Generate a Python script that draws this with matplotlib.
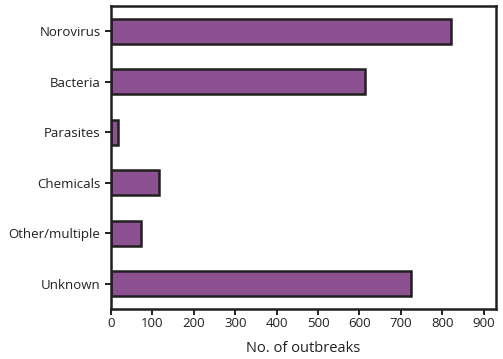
import matplotlib
matplotlib.use("Agg")
import matplotlib.pyplot as plt

categories = ["Norovirus", "Bacteria", "Parasites", "Chemicals", "Other/multiple", "Unknown"]
outbreaks = [822, 614, 17, 115, 72, 724]
xticks = [0, 100, 200, 300, 400, 500, 600, 700, 800, 900]

plt.rcParams['font.family'] = ['Open Sans', 'DejaVu Sans']
dark = "#231f20"

fig = plt.figure(figsize=(5.03, 3.59), dpi=100)
ax = fig.add_axes([111/503, 1-309/359, (496-111)/503, (309-6)/359])

ypos = list(range(len(categories)))
ax.barh(ypos, outbreaks, height=0.5, color="#8b5191", edgecolor=dark, linewidth=1.8)
ax.set_ylim(len(categories)-0.5, -0.5)
ax.set_xlim(0, 930)
ax.set_yticks(ypos)
ax.set_yticklabels(categories)
ax.set_xticks(xticks)
ax.set_xticklabels([str(v) for v in xticks])
for s in ax.spines.values():
    s.set_color(dark)
    s.set_linewidth(1.8)
ax.tick_params(axis='both', colors=dark, labelcolor=dark, labelsize=9.5, length=4, width=1.4, direction='out')
ax.tick_params(axis='x', pad=2)
ax.set_xlabel("No. of outbreaks", fontsize=10.5, color=dark, labelpad=8)

fig.savefig("out.png", dpi=100)
